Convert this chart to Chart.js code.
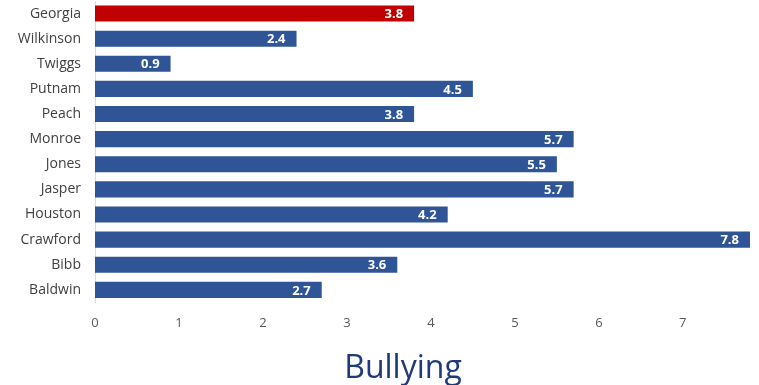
<!DOCTYPE html>
<html>
<head>
<meta charset="utf-8">
<script src="https://cdn.jsdelivr.net/npm/chart.js"></script>
<style>
  html, body { margin: 0; padding: 0; background: #fff; }
  #wrap { width: 759px; height: 385px; }
</style>
</head>
<body>
<div id="wrap"><canvas id="chart" width="759" height="385"></canvas></div>
<script>
// counties, top to bottom, with the state figure first
const counties = ['Georgia', 'Wilkinson', 'Twiggs', 'Putnam', 'Peach', 'Monroe',
  'Jones', 'Jasper', 'Houston', 'Crawford', 'Bibb', 'Baldwin'];
const bullying = [3.8, 2.4, 0.9, 4.5, 3.8, 5.7, 5.5, 5.7, 4.2, 7.8, 3.6, 2.7];
const xTicks = [0, 1, 2, 3, 4, 5, 6, 7];
const chartTitle = 'Bullying';

const stateColor = '#C00000';
const countyColor = '#2F5597';

// value labels drawn inside the end of each bar
const barValueLabels = {
  id: 'barValueLabels',
  afterDatasetsDraw(chart) {
    const ctx = chart.ctx;
    const meta = chart.getDatasetMeta(0);
    ctx.save();
    ctx.font = 'bold 13px "Open Sans", sans-serif';
    ctx.fillStyle = '#fff';
    ctx.textAlign = 'right';
    ctx.textBaseline = 'middle';
    meta.data.forEach((bar, i) => {
      ctx.fillText(bullying[i].toFixed(1), bar.x - 11, bar.y + 1);
    });
    ctx.restore();
  }
};

// big caption under the axis, a bit left of the plot centre
const bottomCaption = {
  id: 'bottomCaption',
  afterDraw(chart) {
    const ctx = chart.ctx;
    ctx.save();
    ctx.font = '32px "Open Sans", sans-serif';
    ctx.fillStyle = '#1F3A7A';
    ctx.textAlign = 'center';
    ctx.textBaseline = 'middle';
    ctx.fillText(chartTitle, 403, 369);
    ctx.restore();
  }
};

new Chart(document.getElementById('chart'), {
  type: 'bar',
  data: {
    labels: counties,
    datasets: [{
      data: bullying,
      backgroundColor: counties.map((c, i) => i === 0 ? stateColor : countyColor),
      barPercentage: 0.64,
      categoryPercentage: 1.0
    }]
  },
  options: {
    indexAxis: 'y',
    responsive: false,
    animation: false,
    layout: { padding: { top: 1, right: 9, left: 0, bottom: 41 } },
    scales: {
      x: {
        min: 0,
        max: 7.8,
        afterBuildTicks: axis => { axis.ticks = xTicks.map(v => ({ value: v })); },
        afterFit: scale => { scale.paddingLeft = 0; scale.paddingRight = 0; },
        grid: { display: false, drawTicks: false },
        border: { display: false },
        ticks: {
          padding: 13,
          color: '#595959',
          font: { family: '"Open Sans", sans-serif', size: 13 }
        }
      },
      y: {
        afterFit: scale => {
          scale.width = 95;
          scale.paddingTop = 0;
          scale.paddingBottom = 0;
        },
        grid: { display: false, drawTicks: false },
        border: { display: true, color: '#D9D9D9', width: 1 },
        ticks: {
          padding: 14,
          color: '#404040',
          font: { family: '"Open Sans", sans-serif', size: 14 }
        }
      }
    },
    plugins: {
      legend: { display: false },
      tooltip: { enabled: false },
      title: { display: false }
    }
  },
  plugins: [barValueLabels, bottomCaption]
});
</script>
</body>
</html>
